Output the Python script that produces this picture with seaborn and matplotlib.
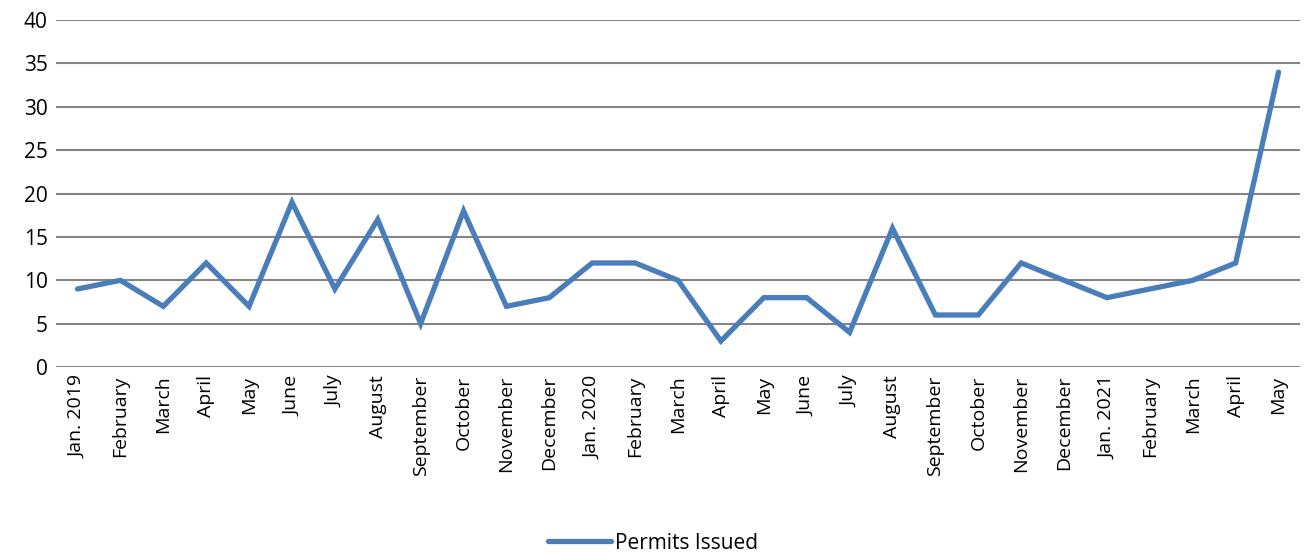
import matplotlib
matplotlib.use("Agg")
import matplotlib.pyplot as plt
import seaborn as sns
import pandas as pd

months = ["Jan. 2019", "February", "March", "April", "May", "June", "July", "August",
          "September", "October", "November", "December", "Jan. 2020", "February", "March",
          "April", "May", "June", "July", "August", "September", "October", "November",
          "December", "Jan. 2021", "February", "March", "April", "May"]
permits = [9, 10, 7, 12, 7, 19, 9, 17, 5, 18, 7, 8, 12, 12, 10, 3, 8, 8, 4, 16, 6, 6,
           12, 10, 8, 9, 10, 12, 34]
y_ticks = [0, 5, 10, 15, 20, 25, 30, 35, 40]

sns.set_theme(style="white")
plt.rcParams['font.family'] = ['Open Sans', 'DejaVu Sans']
plt.rcParams['text.color'] = 'black'

df = pd.DataFrame({"idx": range(len(months)), "Permits Issued": permits})

fig = plt.figure(figsize=(13.06, 5.57), dpi=100)
ax = fig.add_axes([0.0429, 0.341, 0.9525, 0.623])

for t in y_ticks:
    ax.axhline(t, color="#858585", lw=1.5, zorder=0)

sns.lineplot(data=df, x="idx", y="Permits Issued", ax=ax, color="#4A7EBB", lw=3.8,
             label="Permits Issued", solid_capstyle="round", solid_joinstyle="miter",
             legend=False)

ax.set_xlim(-0.5, len(months) - 0.5)
ax.set_ylim(0, 40)
ax.set_yticks(y_ticks)
ax.set_yticklabels([str(t) for t in y_ticks], fontsize=15, color="black")
ax.set_xticks(range(len(months)))
ax.set_xticklabels(months, rotation=90, fontsize=14, color="black")
ax.tick_params(axis="both", length=0, pad=6)
ax.set_xlabel("")
ax.set_ylabel("")
for s in ax.spines.values():
    s.set_visible(False)

handles = ax.get_lines()[-1:]
fig.legend(handles, ["Permits Issued"], loc="center", bbox_to_anchor=(0.5, 0.025),
           frameon=False, fontsize=15, handlelength=3.0, handletextpad=0.2,
           borderpad=0, borderaxespad=0)

fig.savefig("out.png", dpi=100)
